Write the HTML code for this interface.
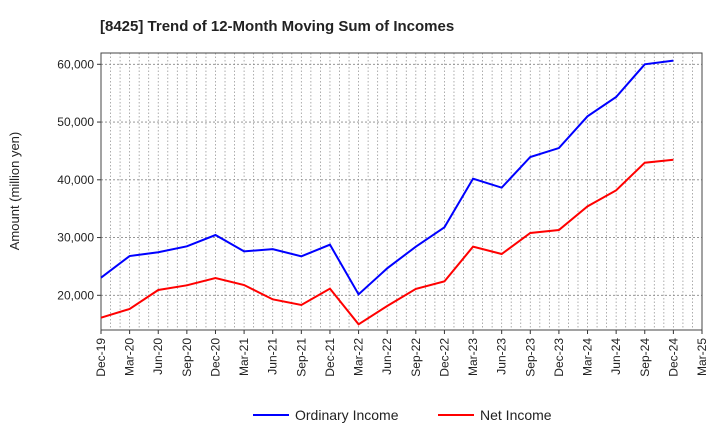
<!DOCTYPE html>
<html><head><meta charset="utf-8"><style>
body{margin:0;background:#fff;font-family:"Liberation Sans",sans-serif}
</style></head><body>
<svg id="c" width="720" height="440" xmlns="http://www.w3.org/2000/svg" font-family="Liberation Sans, sans-serif"></svg>
<script>
const categories=["Dec-19","Mar-20","Jun-20","Sep-20","Dec-20","Mar-21","Jun-21","Sep-21","Dec-21","Mar-22","Jun-22","Sep-22","Dec-22","Mar-23","Jun-23","Sep-23","Dec-23","Mar-24","Jun-24","Sep-24","Dec-24","Mar-25"];
const ordinaryIncome=[23050,26800,27450,28480,30440,27600,28000,26750,28770,20170,24670,28420,31780,40200,38640,43950,45500,51000,54340,60000,60630];
const netIncome=[16120,17630,20920,21730,23000,21780,19300,18320,21150,14980,18150,21100,22420,28420,27150,30790,31300,35400,38180,42960,43480];
const yTicks=[20000,30000,40000,50000,60000];
const svg=document.getElementById('c');const NS='http://www.w3.org/2000/svg';
const L=101,R=702,T=53,B=330;
const x=i=>L+i*(R-L)/(categories.length-1);
const y=v=>295.3-(v-20000)/10000*57.75;
function mk(t,a,p){const e=document.createElementNS(NS,t);for(const k in a)e.setAttribute(k,a[k]);(p||svg).appendChild(e);return e;}
let t=mk('text',{x:100,y:31,'font-size':15,'font-weight':'bold',fill:'#222'});t.textContent='[8425]  Trend of 12-Month Moving Sum of Incomes';

// minor vertical grid (monthly)
for(let m=0;m<=63;m++){const xx=L+m*(R-L)/63;let g=mk('line',{x1:xx,x2:xx,y1:T,y2:B,stroke:'#999','stroke-width':0.8,'stroke-dasharray':'1.5,2'});
}
yTicks.forEach(v=>{let g=mk('line',{x1:L,x2:R,y1:y(v),y2:y(v),stroke:'#888','stroke-width':0.8,'stroke-dasharray':'2,2'});

let tk=mk('line',{x1:L-4,x2:L,y1:y(v),y2:y(v),stroke:'#333'});
let tx=mk('text',{x:L-7,y:y(v)+4,'font-size':12,'text-anchor':'end',fill:'#222'});tx.textContent=v.toLocaleString('en-US');
});
categories.forEach((c,i)=>{mk('line',{x1:x(i),x2:x(i),y1:B,y2:B+4,stroke:'#333'});
let tx=mk('text',{transform:`translate(${x(i)+4},${B+8}) rotate(-90)`,'font-size':12,'text-anchor':'end',fill:'#222'});tx.textContent=c;
});
let fr=mk('rect',{x:L,y:T,width:R-L,height:B-T,fill:'none',stroke:'#444','stroke-width':1});

let yt=mk('text',{transform:'translate(19,191) rotate(-90)','font-size':13,'text-anchor':'middle',fill:'#222'});yt.textContent='Amount (million yen)';

function line(d,col,name){let p=mk('polyline',{points:d.map((v,i)=>x(i)+','+y(v)).join(' '),fill:'none',stroke:col,'stroke-width':2});
}
line(ordinaryIncome,'#0000ff','ordinary-income-line');line(netIncome,'#ff0000','net-income-line');
function leg(x0,col,label,name){const g=mk('g',{});
mk('line',{x1:x0,x2:x0+36,y1:415,y2:415,stroke:col,'stroke-width':2},g);
let tx=mk('text',{x:x0+42,y:420,'font-size':14,fill:'#222'},g);tx.textContent=label;}
leg(253,'#0000ff','Ordinary Income','legend-ordinary-income');leg(438,'#ff0000','Net Income','legend-net-income');
</script></body></html>
